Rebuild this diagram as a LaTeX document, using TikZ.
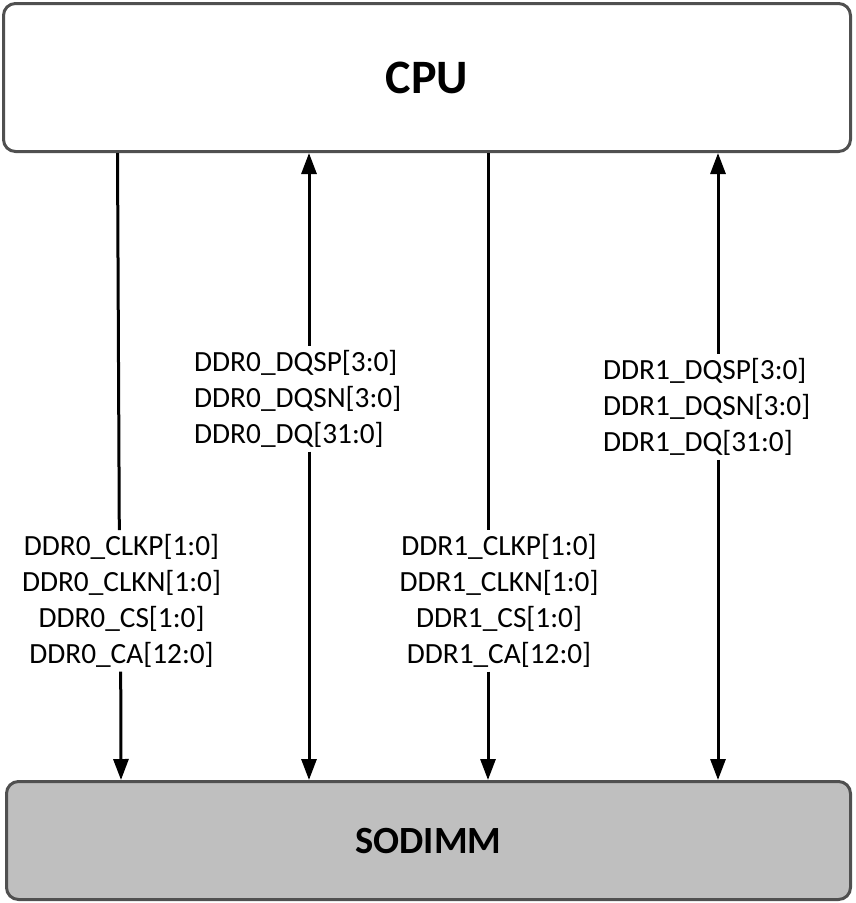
\documentclass[tikz,border=0pt]{standalone}
\usepackage{fontspec}
\setmainfont{Carlito}
\usetikzlibrary{arrows.meta}
\definecolor{boxgray}{HTML}{505050}
\definecolor{dimmfill}{HTML}{BFBFBF}
\begin{document}
\begin{tikzpicture}[x=1pt,y=-1pt,
  box/.style={draw=boxgray, line width=3pt, rounded corners=12pt, inner sep=0pt},
  wire/.style={line width=3pt, draw=black},
  tipend/.style={-{Triangle[length=21pt,width=15pt]}},
  sig/.style={inner xsep=0pt, inner ysep=4.5pt, font=\fontsize{29.3}{35.7}\selectfont}]
\useasboundingbox (0,0) rectangle (856,903);
\node[box, minimum width=847pt, minimum height=148pt, font=\bfseries\fontsize{48}{58}\selectfont] (cpu) at (427,77.5) {CPU};
\node[box, fill=dimmfill, minimum width=844pt, minimum height=118pt, font=\bfseries\fontsize{38.5}{46}\selectfont] (sodimm) at (428.5,840.5) {SODIMM};

\node[sig, anchor=base west, align=left] (l0dq) at (194,443) {DDR0\_DQSP[3:0]\\DDR0\_DQSN[3:0]\\DDR0\_DQ[31:0]};
\node[sig, anchor=base west, align=left] (l1dq) at (603,451) {DDR1\_DQSP[3:0]\\DDR1\_DQSN[3:0]\\DDR1\_DQ[31:0]};
\node[sig, anchor=base, align=center] (l0ck) at (121.5,663) {DDR0\_CLKP[1:0]\\DDR0\_CLKN[1:0]\\DDR0\_CS[1:0]\\DDR0\_CA[12:0]};
\node[sig, anchor=base, align=center] (l1ck) at (499,663) {DDR1\_CLKP[1:0]\\DDR1\_CLKN[1:0]\\DDR1\_CS[1:0]\\DDR1\_CA[12:0]};

\draw[wire] (cpu.south -| 117.5,0) -- (119.3,0 |- l0ck.north);
\draw[wire,tipend] (120.7,0 |- l0ck.south) -- (sodimm.north -| 121,0);

\draw[wire,tipend] (309,0 |- l0dq.north) -- (cpu.south -| 309,0);
\draw[wire,tipend] (309,0 |- l0dq.south) -- (sodimm.north -| 309,0);

\draw[wire] (cpu.south -| 488,0) -- (488,0 |- l1ck.north);
\draw[wire,tipend] (488,0 |- l1ck.south) -- (sodimm.north -| 488,0);

\draw[wire,tipend] (718,0 |- l1dq.north) -- (cpu.south -| 718,0);
\draw[wire,tipend] (718,0 |- l1dq.south) -- (sodimm.north -| 718,0);
\end{tikzpicture}
\end{document}
